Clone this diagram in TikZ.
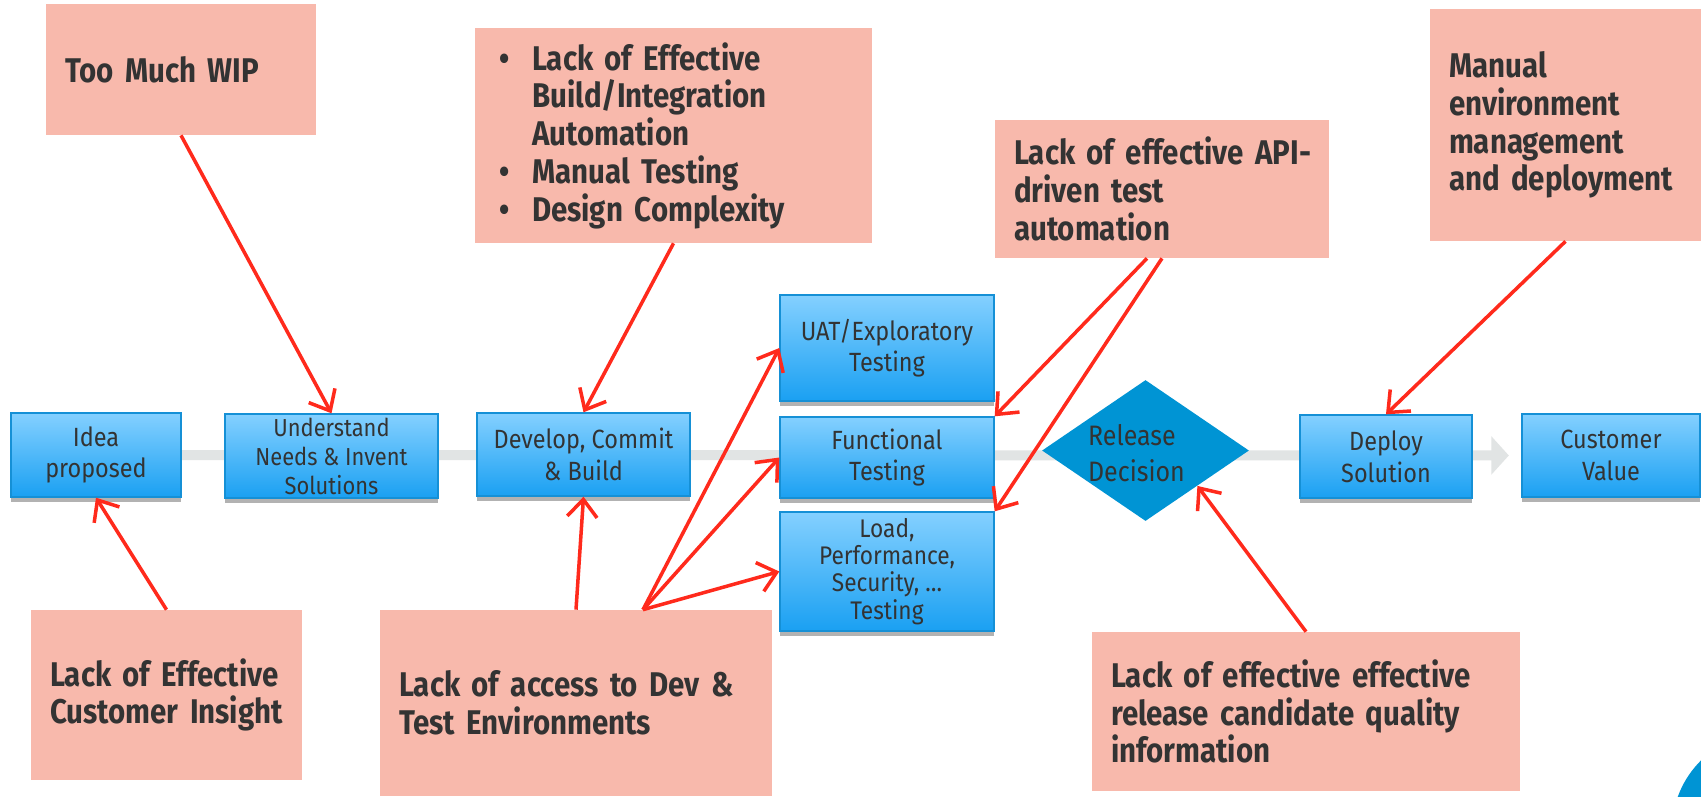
\documentclass[tikz,border=0pt]{standalone}
\usepackage{fontspec}
\setmainfont{Fira Sans}
\newfontfamily\calloutfont{Fira Sans}[FakeStretch=0.86]
\newfontfamily\boxfont{Fira Sans}[FakeStretch=0.89]
\usetikzlibrary{arrows.meta,shapes.geometric,shadows,backgrounds}

\definecolor{salmon}{HTML}{F8B9AC}
\definecolor{inkgray}{HTML}{333333}
\definecolor{boxtop}{HTML}{84D0FF}
\definecolor{boxbot}{HTML}{1AA0F2}
\definecolor{boxedge}{HTML}{1590D6}
\definecolor{decblue}{HTML}{0094D4}
\definecolor{arrowred}{HTML}{FF2A1C}
\definecolor{spine}{HTML}{E1E4E4}

\newcommand{\bul}{\makebox[0.66cm][l]{\textbullet}}
\newcommand{\ind}{\hspace*{0.66cm}}

\begin{document}
\begin{tikzpicture}[x=0.02cm, y=-0.02cm,
  callout/.style={fill=salmon, text=inkgray, align=left, inner xsep=0.38cm, inner ysep=0pt,
    font=\calloutfont\bfseries\fontsize{19.5}{21.5}\selectfont},
  stagebox/.style={draw=boxedge, line width=0.8pt, top color=boxtop, bottom color=boxbot,
    text=inkgray, align=center, inner sep=0pt,
    font=\boxfont\fontsize{15}{18}\selectfont,
    drop shadow={shadow xshift=0pt, shadow yshift=-0.1cm, opacity=0.3, fill=black}},
  pain/.style={draw=arrowred, line width=2pt, -{Straight Barb[length=10pt, width=17pt]}},
  spineline/.style={draw=spine, line width=0.2cm, -{Triangle[length=0.35cm, width=0.75cm]}, shorten >=0.25cm}]
  \useasboundingbox (0,0) rectangle (1701,796);

  % Value stream (middle row)
  \node[stagebox, minimum width=3.4cm, minimum height=1.68cm] (idea) at (96,455) {Idea\\proposed};
  \node[stagebox, minimum width=4.26cm, minimum height=1.68cm, font=\boxfont\fontsize{14}{16.5}\selectfont] (under) at (331.5,456) {Understand\\Needs \& Invent\\Solutions};
  \node[stagebox, minimum width=4.26cm, minimum height=1.66cm] (dev) at (583.5,454.5) {Develop, Commit\\\& Build};
  \node[stagebox, minimum width=4.28cm, minimum height=2.12cm] (uat) at (887,348) {UAT/Exploratory\\Testing};
  \node[stagebox, minimum width=4.28cm, minimum height=1.62cm] (func) at (887,457.5) {Functional\\Testing};
  \node[stagebox, minimum width=4.28cm, minimum height=2.38cm, font=\boxfont\fontsize{14.5}{15.5}\selectfont] (load) at (887,571.5) {Load,\\Performance,\\Security, \dots\\Testing};
  \node[diamond, fill=decblue, aspect=1.47, minimum width=4.14cm, minimum height=2.82cm, inner sep=0pt] (rel) at (1145.5,450.5) {};
  \node[text=inkgray, align=left, font=\boxfont\fontsize{16}{20.5}\selectfont] (reltext) at ([xshift=-0.18cm, yshift=-0.05cm]rel.center) {Release\\Decision};
  \node[stagebox, minimum width=3.44cm, minimum height=1.66cm] (deploy) at (1386,456.5) {Deploy\\Solution};
  \node[stagebox, minimum width=3.56cm, minimum height=1.66cm] (value) at (1611,455.5) {Customer\\Value};

  \begin{scope}[on background layer]
    \fill[white] (0,0) rectangle (1701,796);
    \draw[spineline] (idea) -- (value);
  \end{scope}

  % Constraints (top)
  \node[callout, text width=4.64cm, minimum height=2.62cm] (wip) at (181,69.5) {Too Much WIP};
  \node[callout, inner xsep=0.48cm, text width=6.98cm, minimum height=4.3cm] (build) at (673.5,135.5)
    {\bul Lack of Effective\\\ind Build/Integration\\\ind Automation\\\bul Manual Testing\\\bul Design Complexity};
  \node[callout, text width=5.92cm, minimum height=2.76cm] (api) at (1162,189) {\mbox{Lack of effective API-}\\driven test\\automation};
  \node[callout, text width=4.66cm, minimum height=4.64cm] (envmgmt) at (1565.5,125) {Manual\\environment\\management\\\mbox{and deployment}};

  % Constraints (bottom)
  \node[callout, text width=4.66cm, minimum height=3.4cm] (insight) at (166.5,695) {Lack of Effective\\Customer Insight};
  \node[callout, text width=7.08cm, minimum height=3.72cm] (access) at (576,703) {\mbox{Lack of access to Dev \&}\\Test Environments};
  \node[callout, text width=7.8cm, minimum height=3.18cm] (quality) at (1306,711.5) {\mbox{Lack of effective effective}\\release candidate quality\\information};

  \fill[decblue] (1770,830) circle[radius=98];

  % Pain points
  \draw[pain] (wip.south) -- (under.north);
  \draw[pain] (build.south) -- (dev.north);
  \draw[pain] ([xshift=-0.3cm]api.south) -- (func.north east);
  \draw[pain] (api.south) -- (load.north east);
  \draw[pain] (envmgmt.south) -- (deploy.north);
  \draw[pain] (insight.north) -- (idea.south);
  \draw[pain] (access.north) -- (dev.south);
  \draw[pain] ([xshift=1.34cm]access.north) -- (uat.west);
  \draw[pain] ([xshift=1.34cm]access.north) -- (func.west);
  \draw[pain] ([xshift=1.34cm]access.north) -- (load.west);
  \draw[pain] (quality.north) -- (rel.south east);
\end{tikzpicture}
\end{document}
